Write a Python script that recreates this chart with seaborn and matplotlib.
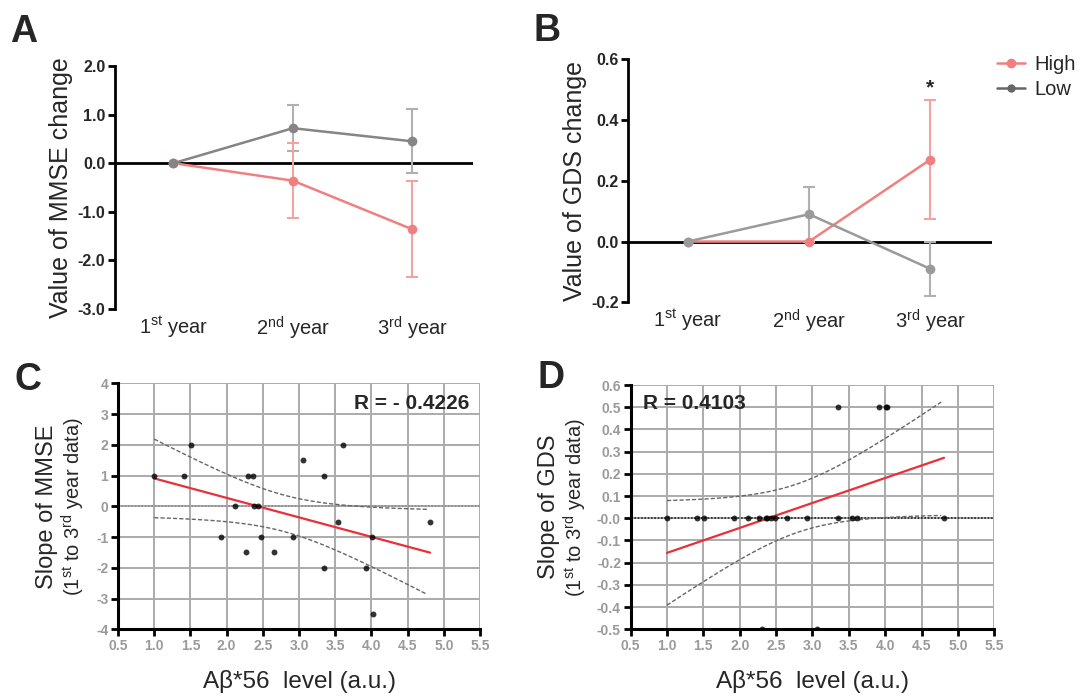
import numpy as np
import pandas as pd
import matplotlib
matplotlib.use("Agg")
import matplotlib.pyplot as plt
from matplotlib.lines import Line2D
import seaborn as sns

sns.set_theme(style="white")
plt.rcParams["font.family"] = ["Liberation Sans", "DejaVu Sans"]
plt.rcParams["mathtext.fontset"] = "custom"
plt.rcParams["mathtext.rm"] = "Liberation Sans"
plt.rcParams["mathtext.it"] = "Liberation Sans:italic"
plt.rcParams["mathtext.bf"] = "Liberation Sans:bold"

# ---- longitudinal change (panels A, B) ----
years = [r"1$^{\mathrm{st}}$ year", r"2$^{\mathrm{nd}}$ year", r"3$^{\mathrm{rd}}$ year"]
groups = ["High", "Low"]

mmse_high = [0.0, -0.36, -1.36]
mmse_high_err = [0.0, 0.77, 0.99]
mmse_low = [0.0, 0.72, 0.45]
mmse_low_err = [0.0, 0.47, 0.66]

gds_high = [0.0, 0.0, 0.27]
gds_high_err = [0.0, 0.0, 0.195]
gds_low = [0.0, 0.09, -0.09]
gds_low_err = [0.0, 0.09, 0.09]

# ---- per-subject slopes vs. Abeta*56 level (panels C, D) ----
ab56_level = [1.00, 1.41, 1.51, 1.92, 2.11, 2.27, 2.30, 2.36, 2.38, 2.43, 2.48,
              2.65, 2.92, 3.06, 3.35, 3.35, 3.54, 3.61, 3.92, 4.01, 4.02, 4.81]
mmse_slope = [1.0, 1.0, 2.0, -1.0, 0.0, -1.5, 1.0, 1.0, 0.0, 0.0, -1.0,
              -1.5, -1.0, 1.5, 1.0, -2.0, -0.5, 2.0, -2.0, -1.0, -3.5, -0.5]
gds_slope = [0.0, 0.0, 0.0, 0.0, 0.0, 0.0, -0.5, 0.0, 0.0, 0.0, 0.0,
             0.0, 0.0, -0.5, 0.5, 0.0, 0.0, 0.0, 0.5, 0.5, 0.5, 0.0]
r_mmse = "R = - 0.4226"
r_gds = "R = 0.4103"

PINK = "#F08080"
PINK_LIGHT = "#F4A3A3"
GRAY_A = "#858585"
GRAY_B = "#9A9A9A"
GRAY_ERR = "#B0B0B0"

W, H = 1086, 699
fig = plt.figure(figsize=(W / 100, H / 100), dpi=100)
axA = fig.add_axes([0.1059, 0.558, 0.3297, 0.3476])
axB = fig.add_axes([0.5785, 0.5675, 0.3352, 0.3477])
axC = fig.add_axes([0.1087, 0.0997, 0.3333, 0.3519])
axD = fig.add_axes([0.5807, 0.0997, 0.3348, 0.3495])


def change_panel(ax, high, high_err, low, low_err, low_color, ylim, yticks, ylabel):
    pos = np.arange(len(years))
    df = pd.DataFrame({
        "pos": np.concatenate([pos, pos]),
        "value": high + low,
        "group": ["High"] * len(pos) + ["Low"] * len(pos),
    })
    ax.axhline(0, color="black", lw=2.0, zorder=1)
    ax.errorbar(pos[1:], low[1:], yerr=low_err[1:], fmt="none", ecolor=GRAY_ERR,
                elinewidth=1.5, capsize=4, capthick=1.5, zorder=2)
    ax.errorbar(pos[1:], high[1:], yerr=high_err[1:], fmt="none", ecolor=PINK_LIGHT,
                elinewidth=1.5, capsize=4, capthick=1.5, zorder=2)
    sns.lineplot(data=df, x="pos", y="value", hue="group", hue_order=groups,
                 palette={"High": PINK, "Low": low_color}, marker="o",
                 markersize=7, markeredgewidth=0, lw=1.8, ax=ax, legend=False,
                 zorder=3)
    ax.set_xlim(-0.49, 2.51)
    ax.set_ylim(*ylim)
    ax.set_yticks(yticks)
    ax.set_yticklabels([f"{t:.1f}" for t in yticks], fontsize=11.5, fontweight="bold")
    ax.set_xticks(pos)
    ax.set_xticklabels(years, fontsize=14.5)
    ax.tick_params(axis="x", length=0, pad=4)
    ax.tick_params(axis="y", length=5, width=2, color="black", left=True, pad=2)
    for s in ["top", "right", "bottom"]:
        ax.spines[s].set_visible(False)
    ax.spines["left"].set_linewidth(2)
    ax.spines["left"].set_color("black")
    ax.set_xlabel("")
    ax.set_ylabel(ylabel, fontsize=18, labelpad=3)


change_panel(axA, mmse_high, mmse_high_err, mmse_low, mmse_low_err, GRAY_A,
             (-3.0, 2.0), [2.0, 1.0, 0.0, -1.0, -2.0, -3.0], "Value of MMSE change")
change_panel(axB, gds_high, gds_high_err, gds_low, gds_low_err, GRAY_B,
             (-0.2, 0.6), [0.6, 0.4, 0.2, 0.0, -0.2], "Value of GDS change")
axB.text(2, 0.505, "*", ha="center", va="center", fontsize=15, fontweight="bold")

# legend for the two groups
handles = [Line2D([], [], color=PINK, marker="o", markersize=7, lw=1.8, markeredgewidth=0),
           Line2D([], [], color="#666666", marker="o", markersize=6, lw=1.8, markeredgewidth=0)]
fig.legend(handles, groups, loc="center left", bbox_to_anchor=(997 / W, 1 - 77 / H),
           frameon=False, fontsize=14.5, handlelength=1.4, handletextpad=0.45,
           labelspacing=0.3, borderpad=0, borderaxespad=0)


def regression_panel(ax, x, y, zero_color, ylim, yticks, ytick_fmt, ylabel1, ylabel2,
                     label_px, rtext, rxy, rha):
    x = np.asarray(x)
    y = np.asarray(y)
    ax.set_xlim(0.5, 5.5)
    ax.set_ylim(*ylim)
    ax.set_xticks(np.arange(0.5, 5.51, 0.5))
    ax.set_yticks(yticks)
    ax.grid(True, color="#ABABAB", lw=1.4)
    ax.set_axisbelow(True)
    ax.axhline(0, color=zero_color, lw=1.2, ls=(0, (1, 1)), zorder=1)

    # least squares fit with 95% confidence band of the mean
    n = len(x)
    b, a = np.polyfit(x, y, 1)
    resid = y - (a + b * x)
    s = np.sqrt(np.sum(resid ** 2) / (n - 2))
    xs = np.linspace(x.min(), x.max() - 0.04, 100)
    se = s * np.sqrt(1 / n + (xs - x.mean()) ** 2 / np.sum((x - x.mean()) ** 2))
    t = 2.086
    fit = a + b * xs
    ax.plot(xs, fit + t * se, color="#666666", lw=1.0, ls=(0, (3, 1.5)), zorder=2)
    ax.plot(xs, fit - t * se, color="#666666", lw=1.0, ls=(0, (3, 1.5)), zorder=2)
    sns.regplot(x=x, y=y, ci=None, ax=ax, truncate=True,
                scatter_kws={"s": 18, "color": "black", "zorder": 4, "linewidths": 0},
                line_kws={"color": "#E8303A", "lw": 1.6, "zorder": 3})

    ax.set_xticklabels([f"{v:.1f}" for v in np.arange(0.5, 5.51, 0.5)],
                       family=["Liberation Sans Narrow", "Liberation Sans"],
                       fontsize=10, fontweight="bold", color="#9A9A9A")
    ax.set_yticklabels([ytick_fmt(v) for v in yticks],
                       family=["Liberation Sans Narrow", "Liberation Sans"],
                       fontsize=10, fontweight="bold", color="#9A9A9A")
    ax.tick_params(axis="both", length=5, width=2, color="black",
                   left=True, bottom=True, pad=2)
    for sp in ["top", "right"]:
        ax.spines[sp].set_visible(False)
    for sp in ["left", "bottom"]:
        ax.spines[sp].set_linewidth(2.2)
        ax.spines[sp].set_color("black")
    ax.set_xlabel("Aβ*56  level (a.u.)", fontsize=17.5, labelpad=12)
    ax.set_ylabel("")
    # two-line y label, placed in figure pixels
    bb = ax.get_position()
    ymid = (bb.y0 + bb.y1) / 2
    fig.text(label_px[0] / W, ymid, ylabel1, rotation=90, ha="center", va="center",
             fontsize=17)
    fig.text(label_px[1] / W, ymid, ylabel2, rotation=90, ha="center", va="center",
             fontsize=14.5)
    ax.text(rxy[0], rxy[1], rtext, ha=rha, va="center", fontsize=15, fontweight="bold")


sub_line = r"($\mathregular{1^{st}}$ to 3$\mathregular{^{rd}}$ year data)"
regression_panel(axC, ab56_level, mmse_slope, "#8C8C8C", (-4, 4), list(range(4, -5, -1)),
                 lambda v: f"{v:d}", "Slope of MMSE", sub_line, (47, 73),
                 r_mmse, (5.35, 3.36), "right")
regression_panel(axD, ab56_level, gds_slope, "#222222", (-0.5, 0.6),
                 [round(v, 1) for v in np.arange(0.6, -0.51, -0.1)],
                 lambda v: f"{v:.1f}" if v != 0 else "-0.0", "Slope of GDS", sub_line,
                 (549, 575), r_gds, (0.674, 0.518), "left")

# panel letters
for letter, (px, py) in {"A": (10, 42), "B": (533, 41), "C": (14, 390), "D": (538, 388)}.items():
    fig.text(px / W, 1 - py / H, letter, fontsize=27, fontweight="bold", va="baseline")

fig.savefig("out.png", dpi=100)
